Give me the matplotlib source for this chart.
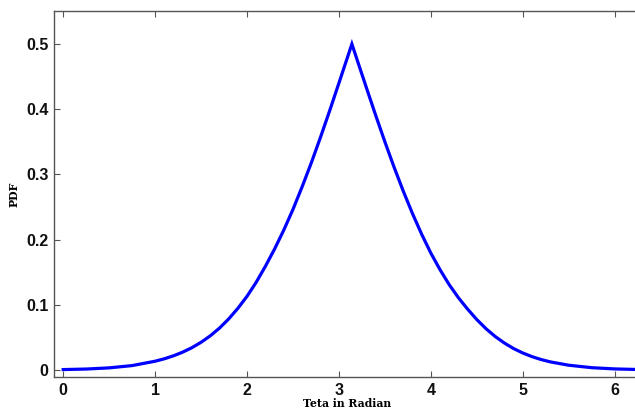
import matplotlib
matplotlib.use("Agg")
import matplotlib.pyplot as plt

# Data
theta = [0.0, 0.25, 0.5, 0.75, 1.0, 1.1, 1.2, 1.3, 1.4, 1.5, 1.6, 1.7, 1.8, 1.9,
         2.0, 2.1, 2.2, 2.3, 2.4, 2.5, 2.6, 2.7, 2.8, 2.9, 3.0, 3.1, 3.1416,
         3.2, 3.3, 3.4, 3.5, 3.6, 3.7, 3.8, 3.9, 4.0, 4.1, 4.2, 4.3, 4.4, 4.5,
         4.6, 4.7, 4.8, 4.9, 5.0, 5.1, 5.2, 5.3, 5.5, 5.75, 6.0, 6.2832]
pdf = [0.0007, 0.0015, 0.0033, 0.0068, 0.0135, 0.0172, 0.0218, 0.0274, 0.0342,
       0.0425, 0.0524, 0.0642, 0.0782, 0.0945, 0.1130, 0.1345, 0.1590, 0.1855,
       0.2145, 0.2462, 0.2810, 0.3178, 0.3570, 0.3978, 0.4399, 0.4823, 0.5000,
       0.4751, 0.4327, 0.3908, 0.3502, 0.3113, 0.2746, 0.2402, 0.2085, 0.1795,
       0.1540, 0.1310, 0.1110, 0.0935, 0.0775, 0.0635, 0.0515, 0.0415, 0.0330,
       0.0262, 0.0206, 0.0161, 0.0125, 0.0074, 0.0036, 0.0017, 0.0007]

x_ticks = [0, 1, 2, 3, 4, 5, 6]
y_ticks = [0, 0.1, 0.2, 0.3, 0.4, 0.5]
y_tick_labels = ["0", "0.1", "0.2", "0.3", "0.4", "0.5"]
x_label = "Teta in Radian"
y_label = "PDF"

fig = plt.figure(figsize=(6.35, 4.11), dpi=100)
ax = fig.add_axes([54 / 635, 34 / 411, 586.6 / 635, 366 / 411])

ax.plot(theta, pdf, color=(0, 0, 1), linewidth=2.3, solid_joinstyle="miter")

ax.set_xlim(-0.1, 6.2832)
ax.set_ylim(-0.0107, 0.5506)
ax.set_xticks(x_ticks)
ax.set_xticklabels([str(t) for t in x_ticks])
ax.set_yticks(y_ticks)
ax.set_yticklabels(y_tick_labels)

for lab in ax.get_xticklabels() + ax.get_yticklabels():
    lab.set_fontfamily("Liberation Sans")
    lab.set_fontweight("bold")
    lab.set_fontsize(11.5)
    lab.set_color("#111111")

ax.tick_params(direction="in", length=4.5, width=0.8, color="#555555",
               top=True, right=True, pad=4)
ax.tick_params(axis="x", pad=4)
for sp in ax.spines.values():
    sp.set_color("#555555")
    sp.set_linewidth(1.0)

ax.set_xlabel(x_label, fontfamily="DejaVu Serif", fontweight="bold",
              fontsize=7.8, labelpad=0)
ax.set_ylabel(y_label, fontfamily="DejaVu Serif", fontweight="bold",
              fontsize=7.8, labelpad=5)

fig.savefig("out.png", dpi=100)
